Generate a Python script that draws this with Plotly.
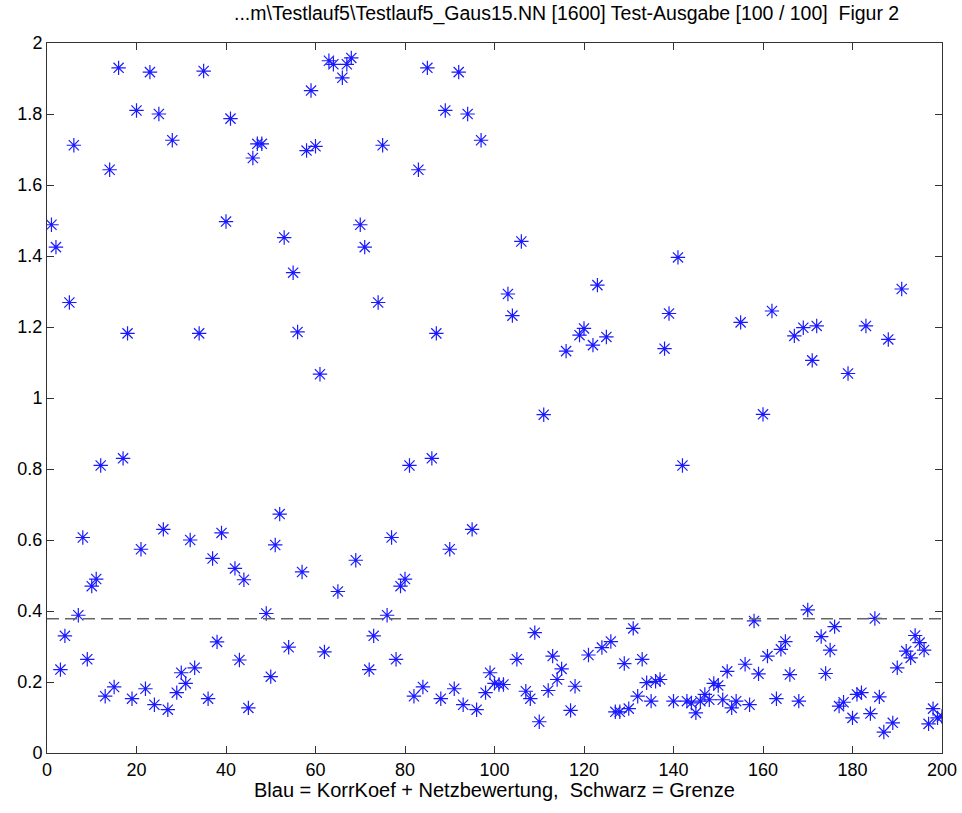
import plotly.graph_objects as go

# Index of each test sample (1..200)
sample_index = list(range(1, 201))

# Blue values: KorrKoef + Netzbewertung
values = [
    1.488, 1.425, 0.235, 0.330, 1.269, 1.712, 0.388, 0.607, 0.264, 0.470,
    0.490, 0.810, 0.160, 1.643, 0.186, 1.930, 0.830, 1.182, 0.153, 1.810,
    0.574, 0.181, 1.918, 0.136, 1.800, 0.630, 0.122, 1.726, 0.170, 0.226,
    0.196, 0.600, 0.240, 1.182, 1.921, 0.153, 0.548, 0.313, 0.620, 1.497,
    1.787, 0.520, 0.262, 0.488, 0.127, 1.676, 1.716, 1.716, 0.393, 0.215,
    0.586, 0.673, 1.452, 0.298, 1.353, 1.186, 0.510, 1.697, 1.866, 1.709,
    1.067, 0.285, 1.950, 1.940, 0.455, 1.902, 1.940, 1.958, 0.543, 1.488,
    1.425, 0.235, 0.330, 1.269, 1.712, 0.388, 0.607, 0.264, 0.470, 0.490,
    0.810, 0.160, 1.643, 0.186, 1.930, 0.830, 1.182, 0.153, 1.810, 0.574,
    0.181, 1.918, 0.136, 1.800, 0.630, 0.122, 1.726, 0.170, 0.226, 0.196,
    0.193, 0.193, 1.293, 1.232, 0.264, 1.441, 0.174, 0.153, 0.339, 0.088,
    0.953, 0.176, 0.273, 0.207, 0.237, 1.132, 0.120, 0.188, 1.177, 1.196,
    0.276, 1.149, 1.318, 0.297, 1.172, 0.314, 0.116, 0.116, 0.252, 0.125,
    0.351, 0.160, 0.264, 0.198, 0.146, 0.202, 0.207, 1.139, 1.238, 0.146,
    1.396, 0.810, 0.146, 0.141, 0.113, 0.146, 0.165, 0.150, 0.196, 0.190,
    0.150, 0.230, 0.127, 0.146, 1.213, 0.250, 0.136, 0.372, 0.223, 0.954,
    0.273, 1.245, 0.153, 0.292, 0.314, 0.221, 1.175, 0.146, 1.198, 0.403,
    1.106, 1.203, 0.328, 0.224, 0.290, 0.356, 0.132, 0.143, 1.069, 0.099,
    0.165, 0.170, 1.203, 0.111, 0.379, 0.158, 0.059, 1.165, 0.085, 0.240,
    1.307, 0.287, 0.268, 0.331, 0.311, 0.290, 0.082, 0.125, 0.099, 0.103,
]

# Black dashed threshold (Grenze)
threshold = 0.378

x_ticks = [0, 20, 40, 60, 80, 100, 120, 140, 160, 180, 200]
y_ticks = [0, 0.2, 0.4, 0.6, 0.8, 1.0, 1.2, 1.4, 1.6, 1.8, 2.0]
y_tick_labels = ["0", "0.2", "0.4", "0.6", "0.8", "1", "1.2", "1.4", "1.6", "1.8", "2"]

title_text = "...m\\Testlauf5\\Testlauf5_Gaus15.NN [1600] Test-Ausgabe [100 / 100]  Figur 2"
xlabel_text = "Blau = KorrKoef + Netzbewertung,  Schwarz = Grenze"

FONT = "Liberation Sans, Arial, sans-serif"

W, H = 962, 813

fig = go.Figure()

fig.add_trace(go.Scatter(
    x=sample_index,
    y=values,
    mode="markers",
    marker=dict(symbol="asterisk-open", size=12,
                color="#1a1aff", line=dict(color="#1a1aff", width=1.2)),
    showlegend=False,
    hoverinfo="x+y",
))

fig.add_hline(y=threshold, line=dict(color="#666666", width=1.5, dash="12px,6px"))

axis_common = dict(
    showline=True, linecolor="#333333", linewidth=1, mirror="ticks",
    ticks="inside", ticklen=7, tickcolor="#333333", tickwidth=1,
    showgrid=False, zeroline=False, automargin=False,
    tickfont=dict(family=FONT, size=18, color="black"),
)

fig.update_xaxes(range=[0, 200], tickvals=x_ticks, **axis_common)
fig.update_yaxes(range=[0, 2], tickvals=y_ticks, ticktext=y_tick_labels, **axis_common)

fig.add_annotation(
    text=xlabel_text, xref="paper", yref="paper", x=0.5, y=0,
    xanchor="center", yanchor="middle", yshift=-37, showarrow=False,
    font=dict(family=FONT, size=20, color="black"),
)

fig.add_annotation(
    text=title_text, xref="paper", yref="paper", x=0.581, y=1,
    xanchor="center", yanchor="middle", yshift=30, showarrow=False,
    font=dict(family=FONT, size=19.5, color="black"),
)

fig.update_layout(
    width=W, height=H,
    paper_bgcolor="white", plot_bgcolor="white",
    margin=dict(l=47, r=20, t=43, b=60),
    font=dict(family=FONT, color="black"),
)

fig.write_html("out.html", config={"displayModeBar": False},
               post_script="document.body.style.margin='0';")
